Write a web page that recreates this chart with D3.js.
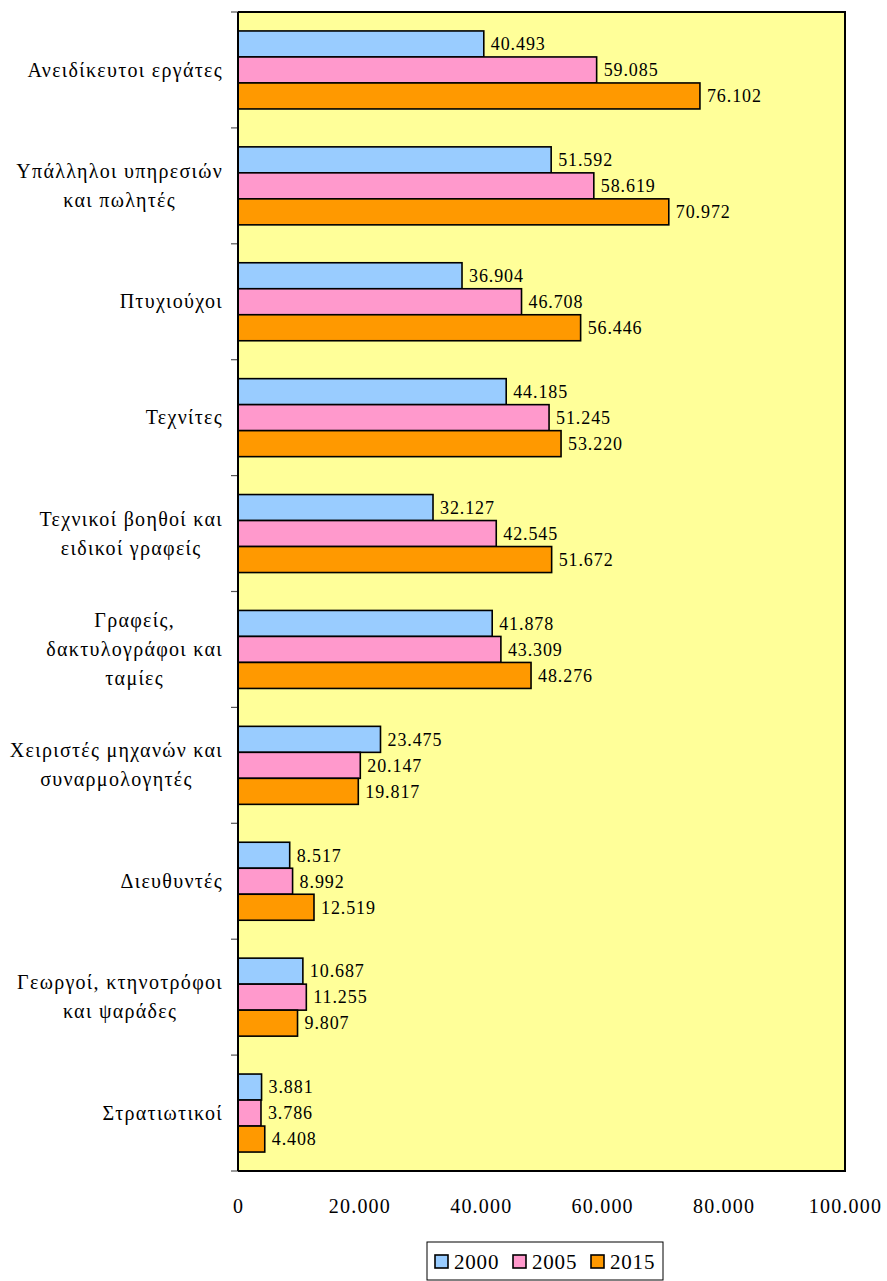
<!DOCTYPE html>
<html>
<head>
<meta charset="utf-8">
<script src="https://cdn.jsdelivr.net/npm/d3@7"></script>
<style>
  html, body { margin: 0; padding: 0; background: #ffffff; }
  svg { display: block; }
  text { font-family: "Liberation Serif", "Times New Roman", serif; fill: #000; }
</style>
</head>
<body>
<svg id="chart" width="887" height="1281"></svg>
<script>
// ---- Data ----
const categories = [
  ["Ανειδίκευτοι εργάτες"],
  ["Υπάλληλοι υπηρεσιών", "και πωλητές"],
  ["Πτυχιούχοι"],
  ["Τεχνίτες"],
  ["Τεχνικοί βοηθοί και", "ειδικοί γραφείς"],
  ["Γραφείς,", "δακτυλογράφοι και", "ταμίες"],
  ["Χειριστές μηχανών και", "συναρμολογητές"],
  ["Διευθυντές"],
  ["Γεωργοί, κτηνοτρόφοι", "και ψαράδες"],
  ["Στρατιωτικοί"]
];
const seriesNames = ["2000", "2005", "2015"];
const values2000 = [40493, 51592, 36904, 44185, 32127, 41878, 23475, 8517, 10687, 3881];
const values2005 = [59085, 58619, 46708, 51245, 42545, 43309, 20147, 8992, 11255, 3786];
const values2015 = [76102, 70972, 56446, 53220, 51672, 48276, 19817, 12519, 9807, 4408];
const xTicks = [0, 20000, 40000, 60000, 80000, 100000];
const seriesColors = ["#99CCFF", "#FF99CC", "#FF9900"];

// ---- Layout ----
const svg = d3.select("#chart");
const plot = { left: 238, right: 845, top: 12, bottom: 1171 };
const locale = d3.formatLocale({ decimal: ",", thousands: ".", grouping: [3], currency: ["€", ""] });
const fmt = locale.format(",d");

const x = d3.scaleLinear().domain([0, 100000]).range([plot.left, plot.right]);
const idx = d3.range(categories.length);
const y = d3.scaleBand().domain(idx).range([plot.top, plot.bottom]).paddingInner(0.327).paddingOuter(0.1635);
const ySub = d3.scaleBand().domain(d3.range(seriesNames.length)).range([0, y.bandwidth()]);
const allSeries = [values2000, values2005, values2015];

// plot background
svg.append("rect")
  .attr("x", plot.left).attr("y", plot.top)
  .attr("width", plot.right - plot.left).attr("height", plot.bottom - plot.top)
  .attr("fill", "#FFFF99");

// bars
const groups = svg.append("g").selectAll("g").data(idx).join("g")
  .attr("transform", i => `translate(0,${y(i)})`);

groups.each(function(i) {
  const g = d3.select(this);
  allSeries.forEach((vals, s) => {
    g.append("rect")
      .attr("x", x(0)).attr("y", ySub(s))
      .attr("width", x(vals[i]) - x(0)).attr("height", ySub.bandwidth())
      .attr("fill", seriesColors[s]).attr("stroke", "#000").attr("stroke-width", 1.6);
    g.append("text")
      .attr("x", x(vals[i]) + 7).attr("y", ySub(s) + ySub.bandwidth() / 2)
      .attr("dy", "0.35em")
      .attr("font-size", 18)
      .attr("letter-spacing", 0.9)
      .text(fmt(vals[i]));
  });
});

// plot border (top, right, bottom)
svg.append("path")
  .attr("d", `M${plot.left},${plot.top}H${plot.right}V${plot.bottom}H${plot.left}`)
  .attr("fill", "none").attr("stroke", "#000").attr("stroke-width", 2);

// y axis with ticks at band boundaries
const yTickPos = d3.range(categories.length + 1).map(k => plot.top + k * y.step());
svg.append("g").selectAll("line").data(yTickPos).join("line")
  .attr("x1", plot.left - 7).attr("x2", plot.left)
  .attr("y1", d => d).attr("y2", d => d)
  .attr("stroke", "#555").attr("stroke-width", 1.2);
svg.append("line")
  .attr("x1", plot.left).attr("x2", plot.left)
  .attr("y1", plot.top).attr("y2", plot.bottom)
  .attr("stroke", "#000").attr("stroke-width", 2);

// category labels: block right-aligned, lines centered within block
const lineH = 29;
const labelRight = 223;
const labG = svg.append("g").attr("font-size", 20).attr("letter-spacing", 1.3);
idx.forEach(i => {
  const lines = categories[i];
  const cy = y(i) + y.bandwidth() / 2;
  const tmp = lines.map(l => labG.append("text").text(l));
  const widths = tmp.map(t => t.node().getComputedTextLength());
  const blockW = d3.max(widths);
  const cx = labelRight - blockW / 2;
  tmp.forEach((t, j) => {
    t.attr("x", cx).attr("text-anchor", "middle")
      .attr("y", cy + (j - (lines.length - 1) / 2) * lineH)
      .attr("dy", "0.33em");
  });
});

// x axis labels
const xAxis = d3.axisBottom(x).tickValues(xTicks).tickSize(0).tickPadding(0).tickFormat(fmt);
const xg = svg.append("g").attr("transform", `translate(0,${plot.bottom})`).call(xAxis);
xg.select(".domain").remove();
xg.selectAll("text")
  .attr("font-size", 20).attr("letter-spacing", 1.2).attr("fill", "#000")
  .attr("y", 35).attr("dy", "0.33em");

// legend
const legend = svg.append("g");
legend.append("rect")
  .attr("x", 427).attr("y", 1242).attr("width", 236).attr("height", 38)
  .attr("fill", "#fff").attr("stroke", "#000").attr("stroke-width", 1);
const legX = d3.scalePoint().domain(seriesNames).range([435, 591]);
seriesNames.forEach((n, s) => {
  legend.append("rect")
    .attr("x", legX(n)).attr("y", 1255).attr("width", 13).attr("height", 13)
    .attr("fill", seriesColors[s]).attr("stroke", "#000").attr("stroke-width", 1.6);
  legend.append("text")
    .attr("x", legX(n) + 19).attr("y", 1262).attr("dy", "0.35em")
    .attr("font-size", 21).attr("letter-spacing", 0.8).text(n);
});
</script>
</body>
</html>
